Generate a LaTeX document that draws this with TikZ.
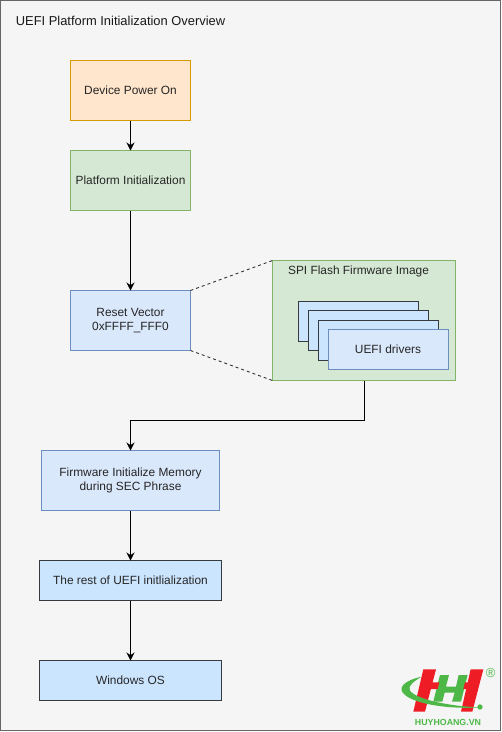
\documentclass[tikz,border=0pt]{standalone}
\usepackage{fontspec}
\setmainfont{Liberation Sans}
\usepackage{tikz}
\usetikzlibrary{arrows.meta}

\definecolor{pagefill}{HTML}{F5F5F5}
\definecolor{pageline}{HTML}{666666}
\definecolor{orangefill}{HTML}{FFE6CC}
\definecolor{orangeline}{HTML}{D79B00}
\definecolor{greenfill}{HTML}{D5E8D4}
\definecolor{greenline}{HTML}{82B366}
\definecolor{bluefill}{HTML}{DAE8FC}
\definecolor{blueline}{HTML}{6C8EBF}
\definecolor{stackfill}{HTML}{CCE5FF}
\definecolor{stackline}{HTML}{36393D}
\definecolor{logored}{HTML}{EE1C25}
\definecolor{logogreen}{HTML}{4DB848}

\tikzset{
	box/.style={draw, line width=1pt, outer sep=0pt, inner sep=0pt, align=center, text=black!85},
	orangebox/.style={box, draw=orangeline, fill=orangefill},
	greenbox/.style={box, draw=greenline, fill=greenfill},
	bluebox/.style={box, draw=blueline, fill=bluefill},
	stackbox/.style={box, draw=stackline, fill=stackfill},
	flow/.style={-{Stealth[length=8pt,width=8pt]}, line width=1.1pt, black},
	zoomline/.style={line width=0.9pt, black!80, dash pattern=on 3pt off 3pt}
}

\begin{document}
\begin{tikzpicture}[
						x=1pt,
						y=-1pt,
						every node/.style={font=\fontsize{11.9}{14}\selectfont},
						line join=miter
						]
						\useasboundingbox (0,0) rectangle (502,732);
						
						% Page
						\draw[line width=1pt, draw=pageline, fill=pagefill] (0.5,0.5) rectangle (500.5,730.5);
						\node[text=black!90, font=\fontsize{12.9}{15}\selectfont] (heading) at (120.5,21) {UEFI Platform Initialization Overview};
						
						% Left column
						\node[orangebox, minimum width=120, minimum height=60] (poweron) at (130.5,90.5) {Device Power On};
						\node[greenbox, minimum width=120, minimum height=60] (platform) at (130.5,180.5) {Platform Initialization};
						\node[bluebox, minimum width=120, minimum height=60] (reset) at (130.5,320.5) {Reset Vector\\0xFFFF\_FFF0};
						\node[bluebox, minimum width=178, minimum height=60] (seczone) at (130.5,480.5) {Firmware Initialize Memory\\during SEC Phrase};
						\node[stackbox, minimum width=182, minimum height=40] (rest) at (130.5,580.5) {The rest of UEFI initlialization};
						\node[stackbox, minimum width=182, minimum height=40] (windows) at (130.5,680.5) {Windows OS};
						
						% Flash image
						\node[greenbox, minimum width=183, minimum height=120] (flash) at (364,320.5) {};
						\node[text=black!85] (flashtitle) at (358.5,271) {SPI Flash Firmware Image};
						\node[stackbox, minimum width=120, minimum height=40] (driverd) at (358,321.5) {};
						\node[stackbox, minimum width=120, minimum height=40] (driverc) at (368,330.5) {};
						\node[stackbox, minimum width=120, minimum height=40] (driverb) at (378,340.5) {};
						\node[bluebox, minimum width=120, minimum height=40] (drivera) at (388,349.5) {UEFI drivers};
						
						% Connectors
						\draw[flow] (poweron) -- (platform);
						\draw[flow] (platform) -- (reset);
						\draw[zoomline] (reset.north east) -- (flash.north west);
						\draw[zoomline] (reset.south east) -- (flash.south west);
						\draw[flow] ([xshift=0.5pt]flash.south) -- ++(0,40) -| (seczone.north);
						\draw[flow] (seczone) -- (rest);
						\draw[flow] (rest) -- (windows);
						
						% Logo
						\begin{scope}[shift={(380,650)}, x=0.3333pt, y=-0.3333pt]
							\fill[logored] (130,58) -- (168,58) -- (135,185) -- (100,185) -- cycle;
							\fill[logored] (272,58) -- (310,58) -- (277,185) -- (243,185) -- cycle;
							\fill[logogreen] (180,75) -- (207,75) -- (198,110) -- (228,110) -- (236,75) -- (263,75) -- (243,155) -- (216,155) -- (224,128) -- (194,128) -- (187,155) -- (160,155) -- cycle;
							\fill[logored] (150,97) -- (178,97) -- (173,117) -- (145,117) -- cycle;
							\fill[logored] (255,97) -- (283,97) -- (278,117) -- (250,117) -- cycle;
							\fill[logogreen] (125,80) .. controls (70,92) and (50,115) .. (75,135) .. controls (110,165) and (220,178) .. (300,172) .. controls (220,170) and (110,150) .. (90,122) .. controls (82,108) and (100,95) .. (125,80) -- cycle;
							\fill[logogreen] (300,171) circle (8);
							\node[text=logogreen, font=\bfseries\fontsize{8.8}{10}\selectfont] (brand) at (204,217) {HUYHOANG.VN};
							\node[text=logogreen, font=\fontsize{13}{14}\selectfont] (regmark) at (332,70) {®};
						\end{scope}
						
					\end{tikzpicture}
\end{document}
